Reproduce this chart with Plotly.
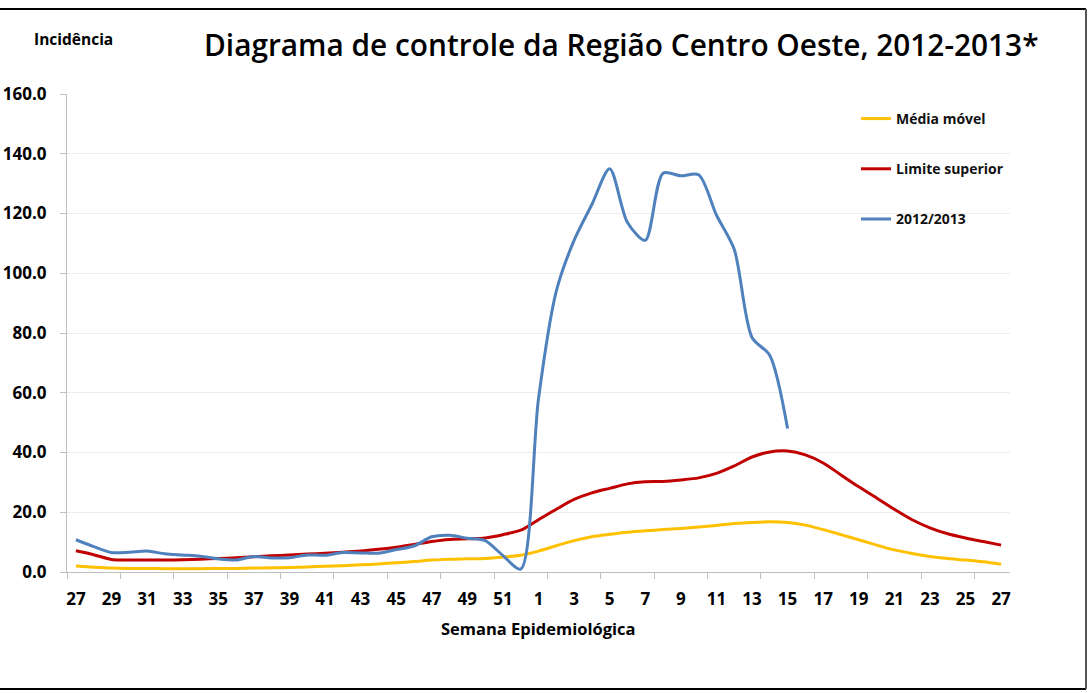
import plotly.graph_objects as go

weeks = [str(w) for w in list(range(27, 53)) + list(range(1, 28))]

media_movel = [2.0, 1.6, 1.3, 1.2, 1.2, 1.1, 1.1, 1.1, 1.2, 1.2, 1.3, 1.4, 1.5, 1.7, 1.9, 2.1,
               2.4, 2.7, 3.1, 3.5, 4.0, 4.3, 4.4, 4.5, 5.0, 5.6, 7.0, 8.8, 10.5, 11.8, 12.6, 13.3,
               13.8, 14.2, 14.6, 15.1, 15.6, 16.2, 16.6, 16.8, 16.6, 15.7, 14.2, 12.5, 10.8, 9.0,
               7.4, 6.2, 5.2, 4.5, 4.0, 3.4, 2.6]

limite_superior = [7.1, 5.8, 4.2, 4.0, 4.0, 4.0, 4.1, 4.3, 4.5, 4.8, 5.1, 5.4, 5.7, 6.0, 6.3, 6.6,
                   7.0, 7.6, 8.3, 9.2, 10.2, 10.9, 11.1, 11.4, 12.5, 14.0, 17.5, 21.0, 24.3, 26.5,
                   28.0, 29.5, 30.2, 30.3, 30.8, 31.5, 33.0, 35.5, 38.5, 40.2, 40.5, 39.2, 36.5,
                   32.5, 28.5, 24.8, 21.0, 17.5, 14.8, 12.8, 11.4, 10.2, 9.0]

incid_2012_2013 = [10.8, 8.5, 6.5, 6.6, 7.0, 6.1, 5.7, 5.3, 4.4, 4.0, 5.2, 4.7, 4.8, 5.7, 5.6, 6.5,
                   6.4, 6.3, 7.5, 8.7, 11.8, 12.3, 11.3, 10.5, 5.5, 1.0, 58.0, 94.0, 111.0, 123.0,
                   135.0, 117.0, 111.0, 133.5, 132.6, 133.0, 119.5, 108.0, 78.5, 72.5, 48.0]
incid_2012_2013 = incid_2012_2013 + [None] * (len(weeks) - len(incid_2012_2013))

x_idx = list(range(len(weeks)))

fig = go.Figure()
fig.add_trace(go.Scatter(x=x_idx, y=media_movel, name="<b>Média móvel</b>", mode="lines",
                         line=dict(color="#FFC000", width=3, shape="spline", smoothing=0.8),
                         legendgroup="a"))
fig.add_trace(go.Scatter(x=x_idx, y=limite_superior, name="<b>Limite superior</b>", mode="lines",
                         line=dict(color="#C00000", width=3, shape="spline", smoothing=0.8),
                         legendgroup="b"))
fig.add_trace(go.Scatter(x=x_idx, y=incid_2012_2013, name="<b>2012/2013</b>", mode="lines",
                         line=dict(color="#4F81BD", width=3, shape="spline", smoothing=0.8),
                         legendgroup="c", connectgaps=False))

FONT = "Open Sans"

# plot area in page px: x 67..1010, y 94..572
PL, PR, PT, PB = 67, 1010, 94, 572
PW, PH = PR - PL, PB - PT
W, H = 1089, 693


def px(p):
    return (p - PL) / PW


def py(p):
    return (PB - p) / PH


fig.update_layout(
    width=W, height=H,
    margin=dict(l=PL, r=W - PR, t=PT, b=H - PB, autoexpand=False),
    paper_bgcolor="white", plot_bgcolor="white",
    showlegend=True,
    legend=dict(x=px(856), y=py(103), xanchor="left", yanchor="top",
                font=dict(family=FONT, size=14, color="#111111"),
                tracegroupgap=29, itemwidth=30, bgcolor="rgba(0,0,0,0)"),
    annotations=[
        dict(text="Diagrama de controle da Região Centro Oeste, 2012-2013*",
             x=px(621), y=py(45), xref="paper", yref="paper",
             showarrow=False, font=dict(family=FONT, size=29.8, color="black", weight=600),
             xanchor="center", yanchor="middle"),
        dict(text="<b>Incidência</b>", x=px(32), y=py(39),
             xref="paper", yref="paper", showarrow=False,
             font=dict(family=FONT, size=15.5, color="black"), xanchor="left", yanchor="middle"),
        dict(text="<b>Semana Epidemiológica</b>", x=px(538), y=py(628),
             xref="paper", yref="paper", showarrow=False,
             font=dict(family=FONT, size=16.5, color="black"), xanchor="center", yanchor="middle"),
    ],
    shapes=[
        dict(type="line", xref="paper", yref="paper", x0=px(0), x1=px(1086),
             y0=py(9), y1=py(9), line=dict(color="black", width=2)),
        dict(type="line", xref="paper", yref="paper", x0=px(0), x1=px(1086),
             y0=py(689), y1=py(689), line=dict(color="black", width=2)),
        dict(type="line", xref="paper", yref="paper", x0=px(1086), x1=px(1086),
             y0=py(9), y1=py(689), line=dict(color="#555555", width=2)),
    ],
)

fig.update_xaxes(
    automargin=False,
    range=[-0.5, len(weeks) - 0.5],
    tickmode="array", tickvals=x_idx[::2], ticktext=["<b>%s</b>" % w for w in weeks[::2]],
    ticks="", showgrid=False, zeroline=False,
    showline=True, linecolor="#BFBFBF", linewidth=1,
    tickfont=dict(family=FONT, size=17, color="black"),
    ticklabelstandoff=12,
    minor=dict(tickmode="array", tickvals=[i - 0.5 for i in range(0, len(weeks) + 1, 3)],
               ticks="outside", ticklen=6, tickcolor="#BFBFBF", showgrid=False),
)
fig.update_yaxes(
    automargin=False,
    range=[0, 160], tickmode="linear", tick0=0, dtick=20, tickformat=".1f",
    showgrid=True, gridcolor="#EDEDED", gridwidth=1, zeroline=False,
    showline=True, linecolor="#BFBFBF", linewidth=1,
    ticks="outside", ticklen=6, tickcolor="#BFBFBF",
    tickfont=dict(family=FONT, size=17, color="black"),
    tickprefix="<b>", ticksuffix="</b>",
    ticklabelstandoff=10,
)

fig.write_html("out.html",
               config={"displayModeBar": False},
               post_script="document.body.style.margin='0px';document.body.style.padding='0px';")
